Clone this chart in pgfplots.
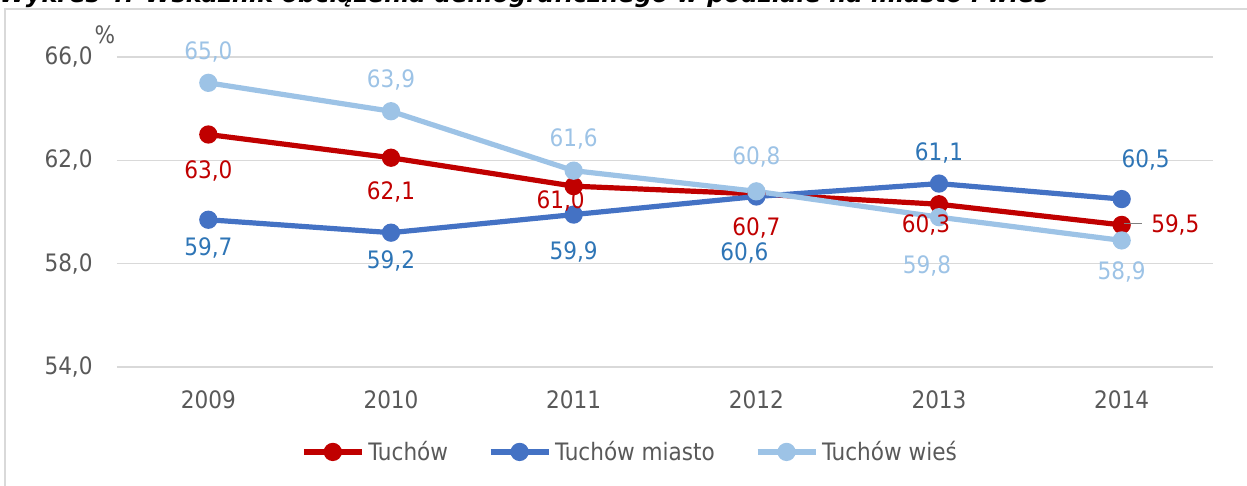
\documentclass[border=0pt]{standalone}
\usepackage{pgfplots}
\pgfplotsset{compat=1.18}
\usepackage{pgfplotstable}
\usepackage{fontspec}
\setmainfont{DejaVu Sans Condensed}
\newfontfamily\titlefont{DejaVu Sans}
\usetikzlibrary{calc}

\definecolor{cRed}{HTML}{C00000}
\definecolor{cBlue}{HTML}{4472C4}
\definecolor{cBlueTxt}{HTML}{2E75B6}
\definecolor{cLight}{HTML}{9DC3E6}
\definecolor{txtgray}{HTML}{595959}
\definecolor{gridgray}{HTML}{D9D9D9}

% x = year index (2009 = 0), dx/dy = label offset in pt
\pgfplotstableread{
x y dx dy
0 63.0 0 -18
1 62.1 0 -17
2 61.0 -6.5 -7.5
3 60.7 0 -17
4 60.3 -6.5 -10.5
5 59.5 0 0
}\tuchow
\pgfplotstableread{
x y dx dy
0 59.7 0 -14
1 59.2 0 -14
2 59.9 0 -18.5
3 60.6 -6 -28
4 61.1 0 15.5
5 60.5 12 19.5
}\miasto
\pgfplotstableread{
x y dx dy
0 65.0 0 15.5
1 63.9 0 15.5
2 61.6 0 16
3 60.8 0 17
4 59.8 -6 -24.5
5 58.9 0 -16
}\wies

\newcommand{\fs}{\fontsize{12}{14}\selectfont}

\begin{document}
\begin{tikzpicture}
\begin{axis}[
  name=ax,
  width=548pt, height=155pt,
  scale only axis,
  xmin=-0.5, xmax=5.5,
  ymin=54, ymax=66,
  xtick={0,...,5},
  xticklabels={2009,2010,2011,2012,2013,2014},
  ytick={54,58,62,66},
  ymajorgrids,
  grid style={gridgray, line width=0.75pt},
  axis line style={draw=none},
  major tick length=0pt,
  tick label style={font=\fs, text=txtgray, inner sep=0pt},
  xticklabel shift=11.5pt,
  yticklabel shift=12pt,
  /pgf/number format/.cd, fixed, fixed zerofill, precision=1, use comma, assume math mode=true,
  /pgfplots/.cd,
  legend style={at={(0.469,-0.274)}, anchor=center, legend columns=3, draw=none, fill=none,
    font=\fs, text=txtgray, /tikz/every even column/.append style={column sep=18pt}},
  legend image code/.code={\draw[mark repeat=2, mark phase=2, #1] plot coordinates {(0pt,0pt) (14.5pt,0pt) (29pt,0pt)};},
  every axis plot/.append style={line width=2.6pt, mark=*, mark size=3.25pt, mark options={solid}},
  lbl/.style={forget plot, draw=none, mark=none, nodes near coords, point meta=y,
    visualization depends on={\thisrow{dx} \as \ldx},
    visualization depends on={\thisrow{dy} \as \ldy},
    every node near coord/.append style={font=\fs, anchor=center, inner sep=0pt,
      xshift=\ldx pt, yshift=\ldy pt}},
]
\addplot[cRed] table[x=x, y=y] {\tuchow};
\addlegendentry{Tuchów}
\addplot[cBlue] table[x=x, y=y] {\miasto};
\addlegendentry{Tuchów miasto}
\addplot[cLight] table[x=x, y=y] {\wies};
\addlegendentry{Tuchów wieś}

\addplot[lbl, every node near coord/.append style={text=cRed}, skip coords between index={5}{6}] table[x=x, y=y] {\tuchow};
\addplot[lbl, every node near coord/.append style={text=cBlueTxt}] table[x=x, y=y] {\miasto};
\addplot[lbl, every node near coord/.append style={text=cLight}] table[x=x, y=y] {\wies};
\addplot[forget plot, draw=none, mark=none, point meta=y, skip coords between index={0}{5},
  nodes near coords={{\color{gray}\rule[0.36em]{9pt}{0.5pt}}\hspace{4.5pt}\pgfmathprintnumber{\pgfplotspointmeta}},
  every node near coord/.append style={font=\fs, text=cRed, anchor=west, inner sep=0pt}]
  table[x=x, y=y] {\tuchow};
\end{axis}
\node[text=txtgray, font=\fs] at ($(ax.south west)+(-6pt,166pt)$) {\%};
\node[anchor=base west, inner sep=0pt, font=\titlefont\bfseries\itshape\fs] at ($(ax.south west)+(-59pt,182pt)$)
  {Wykres 4. Wskaźnik obciążenia demograficznego w podziale na miasto i wieś};
\draw[gridgray, line width=1.3pt] ($(ax.south west)+(-56pt,-80pt)$) |- ($(ax.south west)+(600pt,179pt)$);
\pgfresetboundingbox
\path[use as bounding box] ($(ax.south west)+(-58.5pt,-59.5pt)$) rectangle ($(ax.south west)+(565pt,183.5pt)$);
\end{tikzpicture}
\end{document}
